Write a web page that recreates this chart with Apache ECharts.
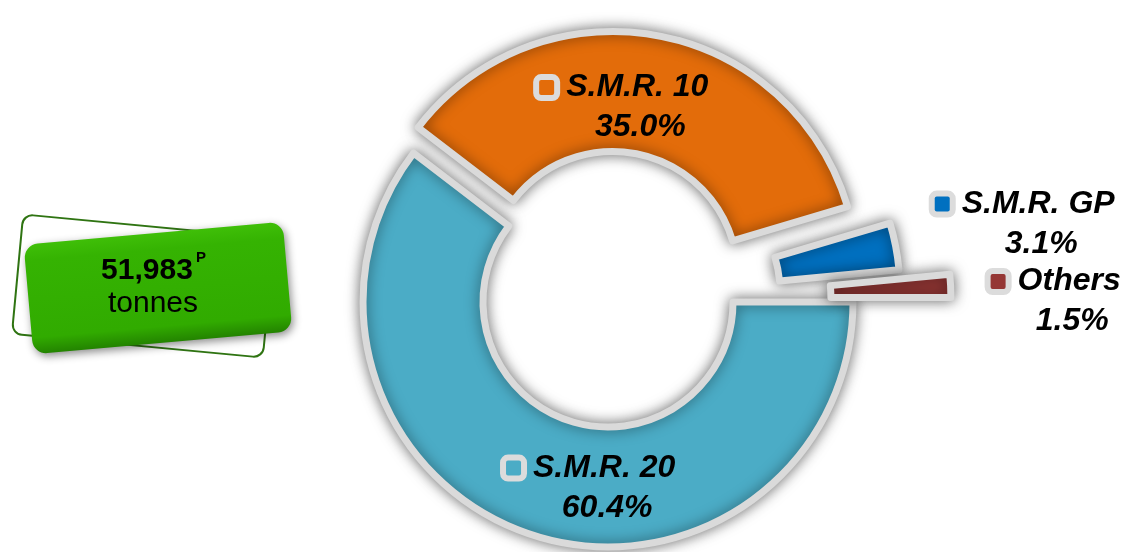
<!DOCTYPE html>
<html>
<head>
<meta charset="utf-8">
<script src="https://cdn.jsdelivr.net/npm/echarts@6/dist/echarts.min.js"></script>
<style>
html,body{margin:0;padding:0;background:#fff;}
#chart{width:1130px;height:552px;}
</style>
</head>
<body>
<div id="chart"></div>
<script>
// ---- data ----
const categories = ['S.M.R. 20', 'S.M.R. 10', 'S.M.R. GP', 'Others'];
const shares = [60.4, 35.0, 3.1, 1.5];
const totalValue = '51,983';
const totalMark = 'P';
const totalUnit = 'tonnes';

// ---- styling / layout ----
const colors = ['#4bacc6', '#e36c0a', '#0070c0', '#953735'];
const explode = [0, 26, 48, 98];
const labelShift = [[43, 8], [-23, 16], [185, -33], [162, 13]];
const pieCenter = [608, 302];
const pieRadius = [125, 245];
const FONT = '"Liberation Sans", Arial, sans-serif';

const chart = echarts.init(document.getElementById('chart'), null, {renderer: 'canvas'});

function makeSeries(k) {
  return {
    type: 'pie',
    silent: true,
    center: pieCenter,
    radius: pieRadius,
    startAngle: 0,
    clockwise: true,
    avoidLabelOverlap: false,
    selectedMode: 'multiple',
    selectedOffset: explode[k],
    z: 2,
    animation: false,
    labelLine: {show: false},
    label: {
      show: true,
      position: 'inside',
      formatter: function (p) {
        return '{m|}{name|' + p.name + '}\n{val|' + shares[p.dataIndex].toFixed(1) + '%}';
      },
      rich: {
        m: {width: 15, height: 15, backgroundColor: colors[k], borderColor: '#dcdcdc', borderWidth: 6, borderRadius: 2},
        name: {fontFamily: FONT, fontSize: 32, fontWeight: 'bold', fontStyle: 'italic', color: '#000', padding: [0, 0, 0, 12], lineHeight: 40},
        val: {fontFamily: FONT, fontSize: 32, fontWeight: 'bold', fontStyle: 'italic', color: '#000', padding: [0, 0, 0, 33], lineHeight: 40}
      }
    },
    labelLayout: function (p) {
      return {dx: labelShift[p.dataIndex][0], dy: labelShift[p.dataIndex][1]};
    },
    data: categories.map(function (name, i) {
      const on = i === k;
      return {
        name: name,
        value: shares[i],
        selected: on,
        itemStyle: on ? {
          color: colors[i],
          borderColor: '#dadada',
          borderWidth: 7,
          shadowBlur: 14,
          shadowColor: 'rgba(0,0,0,0.5)'
        } : {color: 'transparent', borderWidth: 0, shadowBlur: 0},
        label: {show: on}
      };
    })
  };
}

const option = {
  backgroundColor: '#ffffff',
  animation: false,
  series: categories.map(function (_, k) { return makeSeries(k); }),
  graphic: [
    {
      type: 'group', x: 143, y: 286, rotation: -0.094, z: 1,
      children: [{
        type: 'rect',
        shape: {x: -126, y: -60, width: 252, height: 120, r: 10},
        style: {fill: 'none', stroke: '#2f7412', lineWidth: 2}
      }]
    },
    {
      type: 'group', x: 158, y: 288, rotation: 0.089, z: 2,
      children: [{
        type: 'rect',
        shape: {x: -130, y: -55, width: 260, height: 110, r: 14},
        style: {
          fill: {
            type: 'linear', x: 0, y: 0, x2: 0, y2: 1,
            colorStops: [
              {offset: 0, color: '#3fbf08'},
              {offset: 0.15, color: '#35b302'},
              {offset: 0.85, color: '#31ab00'},
              {offset: 1, color: '#238300'}
            ]
          },
          shadowBlur: 8, shadowOffsetX: 2, shadowOffsetY: 3, shadowColor: 'rgba(0,0,0,0.45)'
        }
      }]
    },
    {
      type: 'text', x: 147, y: 271, z: 3,
      style: {text: totalValue, font: 'bold 30px ' + FONT, fill: '#000', textAlign: 'center', textVerticalAlign: 'middle', align: 'center', verticalAlign: 'middle'}
    },
    {
      type: 'text', x: 201, y: 258, z: 3,
      style: {text: totalMark, font: 'bold 15px ' + FONT, fill: '#000', textAlign: 'center', textVerticalAlign: 'middle', align: 'center', verticalAlign: 'middle'}
    },
    {
      type: 'text', x: 153, y: 304, z: 3,
      style: {text: totalUnit, font: '30px ' + FONT, fill: '#000', textAlign: 'center', textVerticalAlign: 'middle', align: 'center', verticalAlign: 'middle'}
    }
  ]
};

chart.setOption(option);
</script>
</body>
</html>
